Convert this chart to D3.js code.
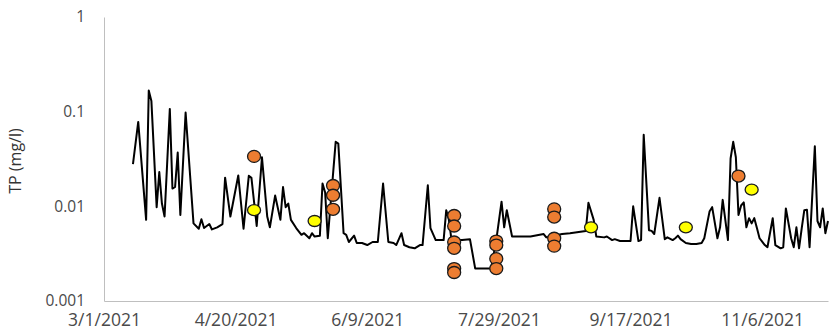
<!DOCTYPE html>
<html>
<head>
<meta charset="utf-8">
<script src="https://cdn.jsdelivr.net/npm/d3@7"></script>
<style>
  html, body { margin: 0; padding: 0; background: #ffffff; }
  svg { display: block; }
</style>
</head>
<body>
<svg id="chart" width="833" height="335"></svg>
<script>
// Total phosphorus time series (mg/l), log scale
const tpDates = [
  "2021-03-12","2021-03-14","2021-03-17","2021-03-18","2021-03-19","2021-03-21","2021-03-22","2021-03-23",
  "2021-03-24","2021-03-26","2021-03-27","2021-03-28","2021-03-29","2021-03-30","2021-04-01","2021-04-04",
  "2021-04-06","2021-04-07","2021-04-08","2021-04-10","2021-04-11","2021-04-13","2021-04-15","2021-04-16",
  "2021-04-18","2021-04-21","2021-04-23","2021-04-25","2021-04-26","2021-04-28","2021-04-30","2021-05-02",
  "2021-05-03","2021-05-05","2021-05-07","2021-05-08","2021-05-09","2021-05-10","2021-05-11","2021-05-13",
  "2021-05-15","2021-05-16","2021-05-18","2021-05-19","2021-05-20","2021-05-22","2021-05-23","2021-05-24",
  "2021-05-25","2021-05-28","2021-05-29","2021-05-31","2021-06-01","2021-06-02","2021-06-04","2021-06-05",
  "2021-06-07","2021-06-09","2021-06-11","2021-06-13","2021-06-15","2021-06-17","2021-06-19","2021-06-20",
  "2021-06-22","2021-06-23","2021-06-25","2021-06-27","2021-06-29","2021-06-30","2021-07-02","2021-07-03",
  "2021-07-05","2021-07-08","2021-07-09","2021-07-10","2021-07-11","2021-07-15","2021-07-18","2021-07-20",
  "2021-07-26","2021-07-28","2021-07-30","2021-07-31","2021-08-01","2021-08-03","2021-08-10","2021-08-15",
  "2021-08-16","2021-08-22","2021-08-25","2021-08-29","2021-08-31","2021-09-01","2021-09-03","2021-09-04",
  "2021-09-07","2021-09-08","2021-09-10","2021-09-11","2021-09-13","2021-09-17","2021-09-18","2021-09-20",
  "2021-09-21","2021-09-22","2021-09-24","2021-09-25","2021-09-26","2021-09-28","2021-09-30","2021-10-01",
  "2021-10-03","2021-10-04","2021-10-05","2021-10-06","2021-10-08","2021-10-10","2021-10-12","2021-10-14",
  "2021-10-15","2021-10-17","2021-10-18","2021-10-20","2021-10-21","2021-10-22","2021-10-24","2021-10-25",
  "2021-10-26","2021-10-27","2021-10-28","2021-10-29","2021-10-30","2021-10-31","2021-11-01","2021-11-02",
  "2021-11-03","2021-11-04","2021-11-05","2021-11-07","2021-11-08","2021-11-10","2021-11-11","2021-11-13",
  "2021-11-14","2021-11-15","2021-11-17","2021-11-18","2021-11-19","2021-11-20","2021-11-21","2021-11-22",
  "2021-11-23","2021-11-24","2021-11-26","2021-11-27","2021-11-28","2021-11-29","2021-11-30","2021-12-01"
];
const tpValues = [
  0.028, 0.078, 0.0072, 0.167, 0.13, 0.0098, 0.023, 0.0107,
  0.0078, 0.107, 0.0154, 0.016, 0.037, 0.0081, 0.098, 0.0066,
  0.0058, 0.0073, 0.0059, 0.0065, 0.0057, 0.006, 0.0065, 0.0201,
  0.0078, 0.0212, 0.0058, 0.021, 0.020, 0.0062, 0.033, 0.0078,
  0.006, 0.013, 0.0072, 0.016, 0.0098, 0.0107, 0.0072, 0.0059,
  0.005, 0.0052, 0.0046, 0.0052, 0.0048, 0.0049, 0.0174, 0.014,
  0.0046, 0.048, 0.046, 0.0052, 0.005, 0.0042, 0.0049, 0.0041,
  0.0041, 0.0039, 0.0042, 0.0042, 0.0174, 0.0042, 0.0041, 0.0039,
  0.0052, 0.0039, 0.0037, 0.0036, 0.0039, 0.0039, 0.0167, 0.0059,
  0.0044, 0.0044, 0.0091, 0.0072, 0.0044, 0.0044, 0.0045, 0.0022,
  0.0022, 0.0044, 0.0112, 0.006, 0.0091, 0.0048, 0.0048, 0.0051,
  0.0047, 0.0051, 0.0052, 0.0054, 0.0055, 0.0109, 0.0072, 0.0048,
  0.0047, 0.0048, 0.0044, 0.0045, 0.0043, 0.0043, 0.010, 0.0043,
  0.0044, 0.057, 0.0056, 0.0055, 0.0051, 0.0123, 0.0045, 0.0047,
  0.0044, 0.0046, 0.0049, 0.0045, 0.0041, 0.004, 0.004, 0.0041,
  0.0046, 0.0088, 0.0098, 0.0046, 0.006, 0.0117, 0.0044, 0.032,
  0.048, 0.033, 0.0081, 0.0102, 0.011, 0.006, 0.0075, 0.0066,
  0.0075, 0.0059, 0.0046, 0.0039, 0.0037, 0.0075, 0.0039, 0.0036,
  0.0037, 0.0095, 0.0046, 0.0037, 0.006, 0.0036, 0.0058, 0.0091,
  0.0092, 0.0037, 0.043, 0.007, 0.006, 0.0095, 0.0052, 0.007
];

// Grab samples (orange markers)
const grabDates = [
  "2021-04-27",
  "2021-05-27","2021-05-27","2021-05-27",
  "2021-07-12","2021-07-12","2021-07-12","2021-07-12","2021-07-12","2021-07-12",
  "2021-07-28","2021-07-28","2021-07-28","2021-07-28",
  "2021-08-19","2021-08-19","2021-08-19","2021-08-19",
  "2021-10-28"
];
const grabValues = [
  0.0337,
  0.0166, 0.0131, 0.0093,
  0.0080, 0.0062, 0.0042, 0.0036, 0.0022, 0.0020,
  0.0043, 0.0039, 0.0028, 0.0022,
  0.0094, 0.0077, 0.0046, 0.0038,
  0.0209
];

// Check samples (yellow markers)
const checkDates = ["2021-04-27","2021-05-20","2021-09-02","2021-10-08","2021-11-02"];
const checkValues = [0.0091, 0.0070, 0.0060, 0.0060, 0.0150];

// Axis ticks
const xTickLabels = ["3/1/2021","4/20/2021","6/9/2021","7/29/2021","9/17/2021","11/6/2021"];
const yTickValues = [0.001, 0.01, 0.1, 1];
const yTickLabels = ["0.001","0.01","0.1","1"];
const xStart = "2021-03-01";
const xEnd = "2021-12-01";
const yTitle = "TP (mg/l)";

const parseISO = d3.utcParse("%Y-%m-%d");
const parseLabel = d3.utcParse("%m/%d/%Y");

const svg = d3.select("#chart");
const plot = { left: 104, right: 828, top: 17, bottom: 301 };

const x = d3.scaleUtc()
  .domain([parseISO(xStart), parseISO(xEnd)])
  .range([plot.left, plot.right]);
const y = d3.scaleLog()
  .domain([0.001, 1])
  .range([plot.bottom, plot.top]);

const axisColor = "#bfbfbf";
const textColor = "#4a4a4a";
const fontFamily = "'Open Sans', 'Noto Sans', 'Liberation Sans', sans-serif";

// Y axis
const yAxis = svg.append("g")
  .attr("transform", `translate(${plot.left},0)`)
  .call(d3.axisLeft(y)
    .tickValues(yTickValues)
    .tickFormat((d, i) => yTickLabels[i])
    .tickSize(0)
    .tickPadding(19));
yAxis.select(".domain").attr("stroke", axisColor).attr("stroke-width", 1);
yAxis.selectAll("text")
  .attr("fill", textColor)
  .style("font-family", fontFamily)
  .style("font-size", "15.5px");

// X axis
const xAxis = svg.append("g")
  .attr("transform", `translate(0,${plot.bottom})`)
  .call(d3.axisBottom(x)
    .tickValues(xTickLabels.map(parseLabel))
    .tickFormat((d, i) => xTickLabels[i])
    .tickSize(0)
    .tickPadding(13));
xAxis.select(".domain").attr("stroke", axisColor).attr("stroke-width", 1);
xAxis.selectAll("text")
  .attr("fill", textColor)
  .style("font-family", fontFamily)
  .style("font-size", "17.5px");

// Y axis title
svg.append("text")
  .attr("transform", `translate(21,${(plot.top + plot.bottom) / 2 + 2}) rotate(-90)`)
  .attr("text-anchor", "middle")
  .attr("fill", "#333333")
  .style("font-family", fontFamily)
  .style("font-size", "16px")
  .text(yTitle);

// TP line
const series = tpDates.map((d, i) => ({ date: parseISO(d), value: tpValues[i] }));
svg.append("path")
  .datum(series)
  .attr("fill", "none")
  .attr("stroke", "#000000")
  .attr("stroke-width", 2)
  .attr("stroke-linejoin", "round")
  .attr("d", d3.line().x(d => x(d.date)).y(d => y(d.value)));

// Markers
function drawMarkers(dates, values, fill, rx, ry) {
  svg.append("g")
    .selectAll("ellipse")
    .data(dates.map((d, i) => ({ date: parseISO(d), value: values[i] })))
    .join("ellipse")
    .attr("cx", d => x(d.date))
    .attr("cy", d => y(d.value))
    .attr("rx", rx)
    .attr("ry", ry)
    .attr("fill", fill)
    .attr("stroke", "#1a1a1a")
    .attr("stroke-width", 1.3);
}
drawMarkers(grabDates, grabValues, "#ed7d31", 6.5, 6);
drawMarkers(checkDates, checkValues, "#ffff00", 6.5, 5.5);
</script>
</body>
</html>
